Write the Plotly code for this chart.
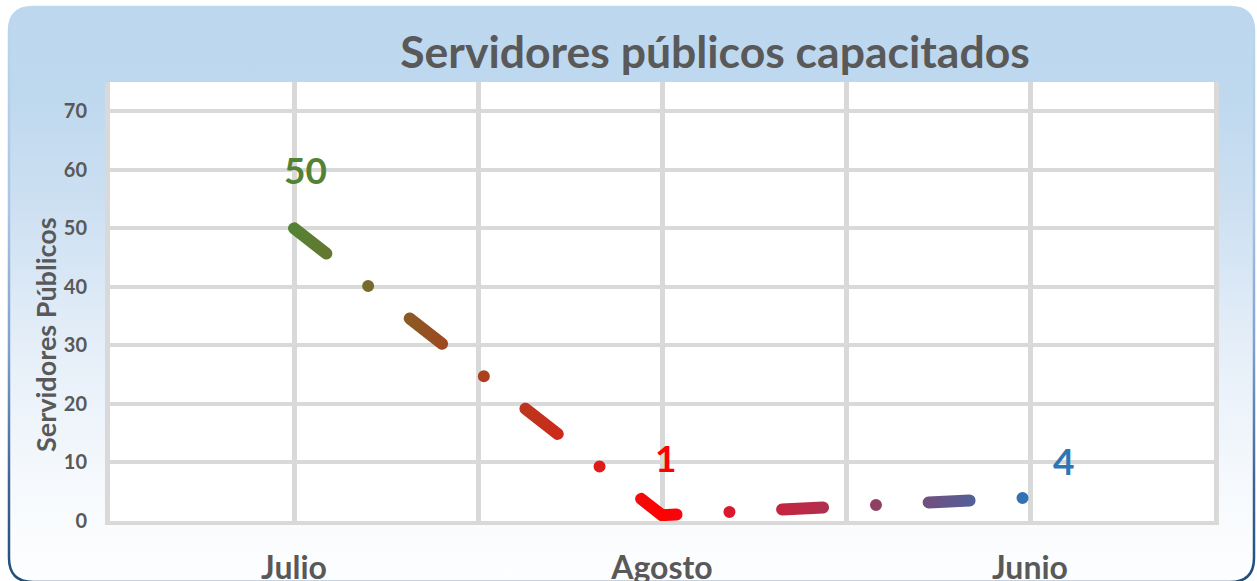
import json
import plotly.graph_objects as go

# ---------------- data ----------------
categories = ["Julio", "Agosto", "Junio"]
servidores = [50, 1, 4]
y_tick_values = [0, 10, 20, 30, 40, 50, 60, 70]
chart_title = "Servidores públicos capacitados"
y_title = "Servidores Públicos"

# ---------------- style ----------------
W, H = 1257, 581
ML, MR, MT, MB = 110, 43, 82, 60
PW, PH = W - ML - MR, H - MT - MB
FONT = "Lato"
GREY_TXT = "#595959"
GRID = "#d9d9d9"
label_colors = ["#548235", "#FF0000", "#2E75B6"]
label_shift = [(11, 59), (3, 58), (33, 37)]

line_stops = [[0, "#548235"], [0.1, "#776a2b"], [0.2, "#9c4b1f"], [0.3, "#b8391d"],
              [0.42, "#e01b1a"], [0.5, "#ff0000"], [0.58, "#e0152b"], [0.7, "#b82b48"],
              [0.8, "#8a4266"], [0.9, "#5e5a90"], [1.0, "#2e75b6"]]
bg_stops = [[0, "#bdd7ee"], [0.15, "#bed8ee"], [0.35, "#cde0f2"], [0.6, "#e6eff9"],
            [0.85, "#f7fafd"], [1.0, "#fdfeff"]]
border_stops = [[0, "#bdd7ee"], [0.35, "#aac5e6"], [0.6, "#7c9fcc"], [0.82, "#3d6595"],
                [1.0, "#1f4e79"]]


def fx(px):
    return (px - ML) / PW


def fy(py):
    return (H - MB - py) / PH


x_idx = list(range(len(categories)))

fig = go.Figure()
fig.add_trace(go.Scatter(
    x=x_idx, y=servidores, mode="lines",
    line=dict(color="#c0392b", width=12, dash="41px,53px,0px,52.7px"),
    hoverinfo="skip", showlegend=False,
))

for i, v in enumerate(servidores):
    fig.add_annotation(
        x=x_idx[i], y=v, text=f"<b>{v}</b>", showarrow=False,
        xshift=label_shift[i][0], yshift=label_shift[i][1],
        font=dict(family=FONT, size=37, color=label_colors[i]),
    )

# y-axis title (placed like the reference, below the plot-area centre)
fig.add_annotation(
    x=fx(45), y=fy(335), xref="paper", yref="paper", text=f"<b>{y_title}</b>",
    textangle=-90, showarrow=False, xanchor="center", yanchor="middle",
    font=dict(family=FONT, size=27, color=GREY_TXT),
)

# background rounded rectangle
x0, x1, y0, y1, r = 9, 1254, 7, 582, 24
pts = [
    ("M", x0 + r, y0), ("L", x1 - r, y0), ("Q", x1, y0, x1, y0 + r),
    ("L", x1, y1 - r), ("Q", x1, y1, x1 - r, y1), ("L", x0 + r, y1),
    ("Q", x0, y1, x0, y1 - r), ("L", x0, y0 + r), ("Q", x0, y0, x0 + r, y0),
]
path = ""
for p in pts:
    cmd = p[0]
    coords = p[1:]
    segs = []
    for k in range(0, len(coords), 2):
        segs.append(f"{fx(coords[k]):.5f},{fy(coords[k+1]):.5f}")
    path += cmd + " ".join(segs) + " "
path += "Z"

fig.add_shape(type="path", path=path, xref="paper", yref="paper",
              fillcolor="#d6e5f3", line=dict(color="#5a80b0", width=2.5), layer="below")
fig.add_shape(type="rect", x0=0, x1=1, y0=0, y1=1, xref="paper", yref="paper",
              fillcolor="white", line=dict(width=0), layer="below")

fig.update_layout(
    width=W, height=H,
    margin=dict(l=ML, r=MR, t=MT, b=MB, autoexpand=False),
    paper_bgcolor="white", plot_bgcolor="rgba(0,0,0,0)",
    title=dict(text=f"<b>{chart_title}</b>", x=fx(715), xref="paper", xanchor="center",
               y=1 - 52 / H, yref="container", yanchor="middle",
               font=dict(family=FONT, size=44.5, color=GREY_TXT)),
    xaxis=dict(
        range=[-0.5, len(categories) - 0.5],
        tickvals=x_idx, ticktext=[f"<b>{c}</b>" for c in categories],
        tickfont=dict(family=FONT, size=32, color=GREY_TXT),
        showgrid=True, gridcolor=GRID, gridwidth=5,
        minor=dict(tickvals=[i + 0.5 for i in x_idx[:-1]], showgrid=True,
                   gridcolor=GRID, gridwidth=5),
        ticks="outside", ticklen=16, tickcolor="rgba(0,0,0,0)",
        showline=True, linecolor=GRID, linewidth=4,
        zeroline=False, fixedrange=True,
    ),
    yaxis=dict(
        range=[0, 75], tickvals=y_tick_values,
        ticktext=[f"<b>{t}</b>" for t in y_tick_values],
        tickfont=dict(family=FONT, size=20, color=GREY_TXT),
        showgrid=True, gridcolor=GRID, gridwidth=4,
        ticks="outside", ticklen=14, tickcolor="rgba(0,0,0,0)",
        showline=True, mirror=True, linecolor=GRID, linewidth=5,
        zeroline=False, fixedrange=True,
    ),
)

js = """
(function(){
document.body.style.margin = '0';
document.body.style.padding = '0';
var gd = document.getElementById('{plot_id}');
var NS = 'http://www.w3.org/2000/svg';
var LINE = __LINE__, BG = __BG__, BORDER = __BORDER__;
function grad(defs, id, vertical, stops){
  var old = document.getElementById(id); if(old) old.parentNode.removeChild(old);
  var g = document.createElementNS(NS, 'linearGradient');
  g.setAttribute('id', id);
  g.setAttribute('x1','0'); g.setAttribute('y1','0');
  g.setAttribute('x2', vertical ? '0' : '1'); g.setAttribute('y2', vertical ? '1' : '0');
  stops.forEach(function(s){
    var st = document.createElementNS(NS, 'stop');
    st.setAttribute('offset', s[0]); st.setAttribute('stop-color', s[1]);
    g.appendChild(st);
  });
  defs.appendChild(g);
}
function decorate(){
  var svg = gd.querySelector('svg.main-svg');
  if(!svg) return;
  var defs = svg.querySelector('defs');
  if(!defs){ defs = document.createElementNS(NS,'defs'); svg.insertBefore(defs, svg.firstChild); }
  grad(defs, 'lineGrad', false, LINE);
  grad(defs, 'bgGrad', true, BG);
  grad(defs, 'borderGrad', true, BORDER);
  gd.querySelectorAll('.scatterlayer .trace path.js-line').forEach(function(p){
    p.style.stroke = 'url(#lineGrad)';
    p.style.strokeLinecap = 'round';
    p.style.strokeLinejoin = 'round';
  });
  var sh = gd.querySelectorAll('.layer-below .shapelayer path');
  if(sh.length){ sh[0].style.fill = 'url(#bgGrad)'; sh[0].style.stroke = 'url(#borderGrad)'; }
}
decorate();
if(gd.on) gd.on('plotly_afterplot', decorate);
})();
"""
js = (js.replace("__LINE__", json.dumps(line_stops))
        .replace("__BG__", json.dumps(bg_stops))
        .replace("__BORDER__", json.dumps(border_stops)))

fig.write_html("out.html", post_script=js, config={"displayModeBar": False})
